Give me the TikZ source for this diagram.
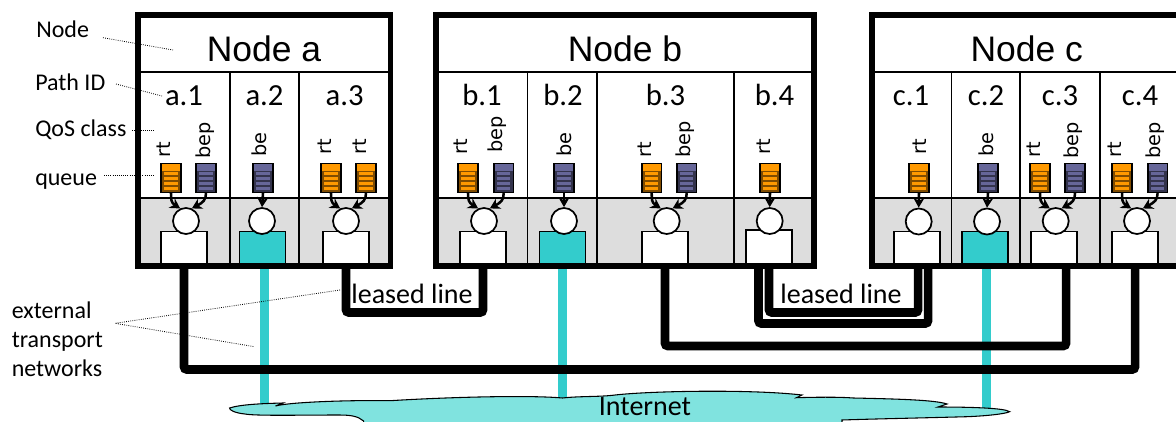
\documentclass[tikz,border=0pt]{standalone}
\usepackage{xcolor}
\usepackage{fontspec}
\setmainfont{Carlito}
\newfontfamily\titlefont{Liberation Sans}
\newfontfamily\qosfont{DejaVu Sans}
\usetikzlibrary{arrows.meta, bending, positioning}

\definecolor{qorange}{HTML}{FF9900}
\definecolor{qpurple}{HTML}{666699}
\definecolor{teal}{HTML}{33CCCC}
\definecolor{band}{HTML}{DDDDDD}
\definecolor{cloudfill}{HTML}{80E3DF}

\begin{document}
\begin{tikzpicture}[x=0.75pt, y=-0.75pt]
\tikzset{
  frame/.style = {rectangle, draw, line width=4.4pt, inner sep=0pt},
  title/.style = {anchor=base, font=\titlefont\fontsize{26.6}{30}\selectfont, inner sep=0pt},
  pathid/.style = {anchor=base, font=\fontsize{23}{26}\selectfont, inner sep=0pt},
  side/.style = {anchor=base west, font=\fontsize{18}{20}\selectfont, inner sep=0pt},
  bigtext/.style = {anchor=base, font=\fontsize{21}{22}\selectfont, inner sep=0pt},
  qos/.style = {rotate=90, anchor=west, xshift=-3pt, font=\qosfont\fontsize{14.5}{16}\selectfont, inner sep=0pt, text height=10pt, text depth=3pt},
  queue/.style = {rectangle, draw=black, line width=1.2pt, inner sep=0pt, minimum width=14.6pt, minimum height=21.5pt, fill=#1!50!black,
    path picture={
      \fill [#1] (path picture bounding box.north west) rectangle ([yshift=-5.4pt]path picture bounding box.north east);
      \fill [#1] ([xshift=2.4pt,yshift=-6.4pt]path picture bounding box.north west) rectangle ([xshift=-2.4pt,yshift=-8.6pt]path picture bounding box.north east);
      \fill [#1] ([xshift=2.4pt,yshift=-10pt]path picture bounding box.north west) rectangle ([xshift=-2.4pt,yshift=-12.2pt]path picture bounding box.north east);
      \fill [#1] ([xshift=2.4pt,yshift=-13.6pt]path picture bounding box.north west) rectangle ([xshift=-2.4pt,yshift=-15.8pt]path picture bounding box.north east);
      \fill [#1] ([xshift=2.4pt,yshift=-17.2pt]path picture bounding box.north west) rectangle ([xshift=-2.4pt,yshift=-19.4pt]path picture bounding box.north east);
    }},
  sched/.style = {circle, draw, fill=white, line width=1.3pt, minimum size=19.5pt, inner sep=0pt},
  port/.style = {rectangle, draw, line width=1pt, anchor=south, minimum width=34.5pt, minimum height=24pt, inner sep=0pt, fill=#1},
  qarrow/.style = {line width=1.9pt, -{Stealth[length=7.5pt,width=8.5pt,flex=1]}},
  netline/.style = {line width=6.4pt, rounded corners=2pt},
  inetline/.style = {teal, line width=6.2pt},
  divider/.style = {line width=1pt},
  leader/.style = {densely dotted, line width=0.6pt}
}
\path [use as bounding box, clip] (0,0) rectangle (1176,421);

% internet access lines
\coordinate (ta) at (264.5,264);
\coordinate (ia) at (264.5,412);
\coordinate (tb) at (562.5,264);
\coordinate (ib) at (562.5,412);
\coordinate (tc) at (986.5,264);
\coordinate (ic) at (986.5,412);
\draw [inetline] (ta) -- (ia);
\draw [inetline] (tb) -- (ib);
\draw [inetline] (tc) -- (ic);

% cloud
\draw [fill=cloudfill, line width=0.8pt] (229.6,408) .. controls (240,404.5) and (262,403.5) .. (283,403) -- (275.5,406)
  .. controls (290,402) and (350,400) .. (390,400.7) .. controls (450,397) and (530,395) .. (562.5,398)
  .. controls (580,396) and (600,397) .. (615,395) .. controls (650,391) and (750,389) .. (802,395) -- (796.5,397.7)
  .. controls (820,397) and (840,397) .. (853.5,398) .. controls (900,399) and (935,400) .. (947,404) -- (938,407)
  .. controls (970,407) and (1005,408) .. (1009.6,411.7) .. controls (1005,414) and (985,416) .. (967,416.7)
  .. controls (920,418) and (870,419) .. (842,420) -- (842,430) -- (363,430) -- (363.6,421)
  .. controls (358,416) and (350,415) .. (338.7,415) .. controls (300,415) and (255,416) .. (245,414)
  .. controls (235,413) and (229,410) .. cycle;
\node (internet) [bigtext] at (645,415) {Internet};

% white and grey parts of the nodes
\fill [white] (138,15) rectangle (390.5,266);
\fill [white] (436,15) rectangle (814,266);
\fill [white] (872,15) rectangle (1200,266);
\fill [band] (138,198) rectangle (390.5,266);
\fill [band] (436,198) rectangle (814,266);
\fill [band] (872,198) rectangle (1200,266);

% ports
\node (pa1) [port=white] at (184,264) {};
\node (pa2) [port=teal] at (262.8,264) {};
\node (pa3) [port=white] at (346,264) {};
\node (pb1) [port=white] at (483,264) {};
\node (pb2) [port=teal] at (562.5,264) {};
\node (pb3) [port=white] at (665,264) {};
\node (pb4) [port=white, minimum height=25pt] at (769,264) {};
\node (pc1) [port=white] at (917,264) {};
\node (pc2) [port=teal] at (985,264) {};
\node (pc3) [port=white] at (1054,264) {};
\node (pc4) [port=white] at (1135,264) {};

% schedulers
\node (sa1) [sched] at (186,221) {};
\node (sa2) [sched] at (262,221) {};
\node (sa3) [sched] at (346,221) {};
\node (sb1) [sched] at (484,221) {};
\node (sb2) [sched] at (564,221) {};
\node (sb3) [sched] at (666.7,221) {};
\node (sb4) [sched] at (769.7,221) {};
\node (sc1) [sched] at (918.7,221.5) {};
\node (sc2) [sched] at (987,221.5) {};
\node (sc3) [sched] at (1055.7,221) {};
\node (sc4) [sched] at (1137,221) {};

% queues
\node (qa1) [queue=qorange] at (171,178) {};
\node (qa2) [queue=qpurple] at (206,178) {};
\node (qa3) [queue=qpurple] at (263,178) {};
\node (qa4) [queue=qorange] at (331,178) {};
\node (qa5) [queue=qorange] at (366,178) {};
\node (qb1) [queue=qorange] at (468,178) {};
\node (qb2) [queue=qpurple] at (503.7,178) {};
\node (qb3) [queue=qpurple] at (564,178) {};
\node (qb4) [queue=qorange] at (651.7,178) {};
\node (qb5) [queue=qpurple] at (686.7,178) {};
\node (qb6) [queue=qorange] at (770,178) {};
\node (qc1) [queue=qorange] at (919,178) {};
\node (qc2) [queue=qpurple] at (988,178) {};
\node (qc3) [queue=qorange] at (1040,178) {};
\node (qc4) [queue=qpurple] at (1075,178) {};
\node (qc5) [queue=qorange] at (1122,178) {};
\node (qc6) [queue=qpurple] at (1157.6,178) {};

% queue arrows
\draw [qarrow] (qa1.south) .. controls +(0,9) and +(-9,-5) .. (sa1.115);
\draw [qarrow] (qa2.south) .. controls +(0,9) and +(9,-5) .. (sa1.65);
\draw [qarrow] (qa3.south) -- (sa2.north);
\draw [qarrow] (qa4.south) .. controls +(0,9) and +(-9,-5) .. (sa3.115);
\draw [qarrow] (qa5.south) .. controls +(0,9) and +(9,-5) .. (sa3.65);
\draw [qarrow] (qb1.south) .. controls +(0,9) and +(-9,-5) .. (sb1.115);
\draw [qarrow] (qb2.south) .. controls +(0,9) and +(9,-5) .. (sb1.65);
\draw [qarrow] (qb3.south) -- (sb2.north);
\draw [qarrow] (qb4.south) .. controls +(0,9) and +(-9,-5) .. (sb3.115);
\draw [qarrow] (qb5.south) .. controls +(0,9) and +(9,-5) .. (sb3.65);
\draw [qarrow] (qb6.south) -- (sb4.north);
\draw [qarrow] (qc1.south) -- (sc1.north);
\draw [qarrow] (qc2.south) -- (sc2.north);
\draw [qarrow] (qc3.south) .. controls +(0,9) and +(-9,-5) .. (sc3.115);
\draw [qarrow] (qc4.south) .. controls +(0,9) and +(9,-5) .. (sc3.65);
\draw [qarrow] (qc5.south) .. controls +(0,9) and +(-9,-5) .. (sc4.115);
\draw [qarrow] (qc6.south) .. controls +(0,9) and +(9,-5) .. (sc4.65);

% QoS classes
\node (la1) [qos] at (166,154) {rt};
\node (la2) [qos] at (205.7,155) {bep};
\node (la3) [qos] at (262,153) {be};
\node (la4) [qos] at (326.7,151) {rt};
\node (la5) [qos] at (361.7,151) {rt};
\node (lb1) [qos] at (463,151) {rt};
\node (lb2) [qos] at (498,149) {bep};
\node (lb3) [qos] at (566.7,153) {be};
\node (lb4) [qos] at (646.7,154) {rt};
\node (lb5) [qos] at (686,154) {bep};
\node (lb6) [qos] at (765.7,151) {rt};
\node (lc1) [qos] at (921.7,151) {rt};
\node (lc2) [qos] at (989,153) {be};
\node (lc3) [qos] at (1035.7,154) {rt};
\node (lc4) [qos] at (1074,155) {bep};
\node (lc5) [qos] at (1117,154) {rt};
\node (lc6) [qos] at (1156,155) {bep};

% path ids
\node (ida1) [pathid] at (184,105) {a.1};
\node (ida2) [pathid] at (264.5,105) {a.2};
\node (ida3) [pathid] at (344.7,105) {a.3};
\node (idb1) [pathid] at (482,105) {b.1};
\node (idb2) [pathid] at (563,105) {b.2};
\node (idb3) [pathid] at (665.5,105) {b.3};
\node (idb4) [pathid] at (774.5,105) {b.4};
\node (idc1) [pathid] at (911,105) {c.1};
\node (idc2) [pathid] at (986,105) {c.2};
\node (idc3) [pathid] at (1060,105) {c.3};
\node (idc4) [pathid] at (1140,105) {c.4};

% titles
\node (ta1) [title] at (264,61) {Node a};
\node (tb1) [title] at (625,61) {Node b};
\node (tc1) [title] at (1026.7,61) {Node c};

% dividers
\draw [divider] (138,72) -- (390.5,72);
\draw [divider] (436,72) -- (814,72);
\draw [divider] (872,72) -- (1200,72);
\draw [divider] (138,198) -- (390.5,198);
\draw [divider] (436,198) -- (814,198);
\draw [divider] (872,198) -- (1200,198);
\draw [divider] (230,72) -- (230,266);
\draw [divider] (299,72) -- (299,266);
\draw [divider] (527.7,72) -- (527.7,266);
\draw [divider] (597,72) -- (597,266);
\draw [divider] (734,72) -- (734,266);
\draw [divider] (951.7,72) -- (951.7,266);
\draw [divider] (1020,72) -- (1020,266);
\draw [divider] (1100,72) -- (1100,266);

% external transport networks
\coordinate (b4l) at (758.5,264);
\coordinate (b4r) at (769,264);
\coordinate (c1l) at (918,264);
\coordinate (c1r) at (928,264);
\coordinate (c3r) at (1066,264);
\draw [netline] (pa3.south) -- (346,312.5) -- (483,312.5) -- (pb1.south);
\draw [netline] (b4r) -- (769,312.5) -- (918,312.5) -- (c1l);
\draw [netline] (b4l) -- (758.5,323.5) -- (928,323.5) -- (c1r);
\draw [netline] (pb3.south) -- (665,346) -- (1066,346) -- (c3r);
\draw [netline] (pa1.south) -- (184,369.5) -- (1135,369.5) -- (pc4.south);
\node (leaseda) [bigtext] at (412,303) {leased line};
\node (leasedb) [bigtext] at (841,303) {leased line};

% node frames
\node (nodea) [frame, minimum width=189.4pt, minimum height=188.2pt] at (264.25,140.5) {};
\node (nodeb) [frame, minimum width=283.5pt, minimum height=188.2pt] at (625,140.5) {};
\node (nodec) [frame, minimum width=246pt, minimum height=188.2pt] at (1036,140.5) {};

% legend
\node (lnode) [side] at (36,37.5) {Node};
\node (lpath) [side] at (35,90.7) {Path ID};
\node (lclass) [side] at (35,136.7) {QoS class};
\node (lqueue) [side] at (35,185.5) {queue};
\node (lext) [font=\fontsize{18}{21.75}\selectfont, align=left, anchor=west, inner sep=0pt] at (11.5,339) {external\\transport\\networks};

\coordinate (snode) at (103,37.7);
\coordinate (enode) at (173,50);
\coordinate (spath) at (116,84);
\coordinate (epath) at (162,96);
\coordinate (sclass) at (132,130);
\coordinate (eclass) at (155,130);
\coordinate (squeue) at (104,175);
\coordinate (equeue) at (155,175);
\coordinate (hub) at (115,323.3);
\coordinate (eleased) at (340,290);
\coordinate (einet) at (254.5,346.7);
\draw [leader] (snode) -- (enode);
\draw [leader] (spath) -- (epath);
\draw [leader] (sclass) -- (eclass);
\draw [leader] (squeue) -- (equeue);
\draw [leader] (eleased) -- (hub) -- (einet);
\end{tikzpicture}
\end{document}
